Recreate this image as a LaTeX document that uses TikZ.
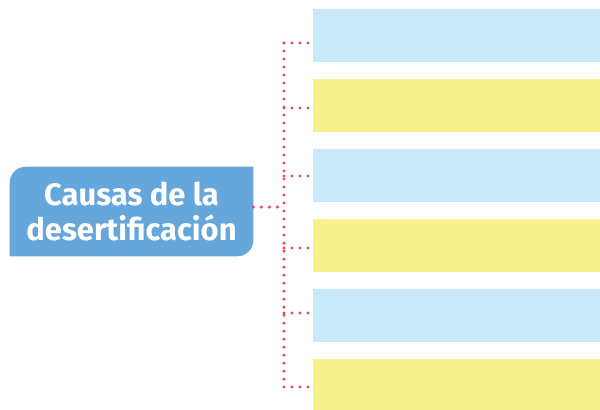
\documentclass[tikz,border=0pt]{standalone}
\usepackage{fontspec}
\setsansfont{Fira Sans}
\usetikzlibrary{positioning,backgrounds}
\definecolor{causeblue}{HTML}{65A7DB}
\definecolor{slotblue}{HTML}{C7E9F9}
\definecolor{slotyellow}{HTML}{F8EF8D}
\definecolor{dotred}{HTML}{E8485A}

\begin{document}
\begin{tikzpicture}[x=0.025cm, y=-0.025cm,
    cause/.style={minimum width=6.075cm, minimum height=2.225cm, align=center, text=white, inner sep=0pt, font=\sffamily\bfseries\fontsize{22}{25}\selectfont},
    slot/.style={minimum width=7.175cm, minimum height=1.325cm, inner sep=0pt},
    blueslot/.style={slot, fill=slotblue},
    yellowslot/.style={slot, fill=slotyellow},
    link/.style={draw=dotred, line width=0.085cm, line cap=round, dash pattern=on 0pt off 0.2cm}
]
    \useasboundingbox (0,0) rectangle (600,409);

    \node[cause] (causas) at (131.5,211.5) {Causas de la\\desertificación};
    \begin{scope}[on background layer]
        \fill[causeblue] (causas.south west) [rounded corners=0.4cm] -- (causas.north west) [sharp corners] -- (causas.north east) [rounded corners=0.4cm] -- (causas.south east) [sharp corners] -- cycle;
    \end{scope}

    \node[blueslot] (box1) at (456.5,35.5) {};
    \node[yellowslot] (box2) at (456.5,105.5) {};
    \node[blueslot] (box3) at (456.5,175.5) {};
    \node[yellowslot] (box4) at (456.5,245.5) {};
    \node[blueslot] (box5) at (456.5,315.5) {};
    \node[yellowslot] (box6) at (456.5,385.5) {};

    % dotted tree
    \coordinate (hub) at (284,207);
    \foreach \i/\y in {1/43, 2/108, 3/176, 4/248, 5/313, 6/387} {
        \coordinate (j\i) at (284,\y);
        \draw[link] (j\i) -- (box\i.west |- j\i);
    }
    \draw[link] (j1) -- (j6);
    \draw[link] (causas.east |- hub) -- (hub);
\end{tikzpicture}
\end{document}
